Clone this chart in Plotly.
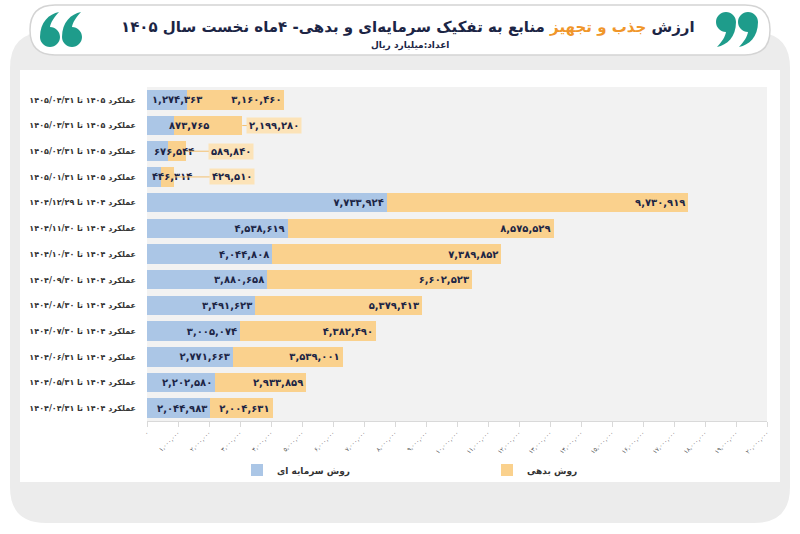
import plotly.graph_objects as go

# category labels, top row first
categories = [
    "عملکرد ۱۴۰۵ تا ۱۴۰۵/۰۴/۳۱",
    "عملکرد ۱۴۰۵ تا ۱۴۰۵/۰۳/۳۱",
    "عملکرد ۱۴۰۵ تا ۱۴۰۵/۰۲/۳۱",
    "عملکرد ۱۴۰۵ تا ۱۴۰۵/۰۱/۳۱",
    "عملکرد ۱۴۰۴ تا ۱۴۰۴/۱۲/۲۹",
    "عملکرد ۱۴۰۴ تا ۱۴۰۴/۱۱/۳۰",
    "عملکرد ۱۴۰۴ تا ۱۴۰۴/۱۰/۳۰",
    "عملکرد ۱۴۰۴ تا ۱۴۰۴/۰۹/۳۰",
    "عملکرد ۱۴۰۴ تا ۱۴۰۴/۰۸/۳۰",
    "عملکرد ۱۴۰۴ تا ۱۴۰۴/۰۷/۳۰",
    "عملکرد ۱۴۰۴ تا ۱۴۰۴/۰۶/۳۱",
    "عملکرد ۱۴۰۴ تا ۱۴۰۴/۰۵/۳۱",
    "عملکرد ۱۴۰۴ تا ۱۴۰۴/۰۴/۳۱",
]
capital = [1274363, 873765, 676544, 446314, 7733924, 4538619, 4044808,
           3880658, 3491623, 3005074, 2771663, 2202580, 2044983]
debt = [3160460, 2199280, 589840, 429510, 9730919, 8575529, 7389852,
        6602523, 5379413, 4382490, 3539001, 2933859, 2004631]
tick_values = [0, 1000000, 2000000, 3000000, 4000000, 5000000, 6000000,
               7000000, 8000000, 9000000, 10000000, 11000000, 12000000,
               13000000, 14000000, 15000000, 16000000, 17000000, 18000000,
               19000000, 20000000]

series_names = ["روش سرمایه ای", "روش بدهی"]
title_parts = ["ارزش", "جذب و تجهیز", "منابع به تفکیک سرمایه‌ای و بدهی- ۴ماه نخست سال ۱۴۰۵"]
subtitle = "اعداد:میلیارد ریال"

FA = str.maketrans("0123456789", "۰۱۲۳۴۵۶۷۸۹")


def fa(n):
    return f"{n:,}".translate(FA)


BLUE = "#abc6e6"
ORANGE = "#fad18d"
NAVY = "#1c2545"
TEAL = "#1e9c8b"
FONT = "DejaVu Sans"

# plot area in pixels (800x534 page)
L, R, T, B = 147, 767, 87, 421


def px(x):
    return (x - L) / (R - L)


def py(y):
    return 1 - (y - T) / (B - T)


def rrect(x0, y0, x1, y1, r):
    pts = [
        f"M {px(x0 + r)},{py(y0)}",
        f"L {px(x1 - r)},{py(y0)}",
        f"Q {px(x1)},{py(y0)} {px(x1)},{py(y0 + r)}",
        f"L {px(x1)},{py(y1 - r)}",
        f"Q {px(x1)},{py(y1)} {px(x1 - r)},{py(y1)}",
        f"L {px(x0 + r)},{py(y1)}",
        f"Q {px(x0)},{py(y1)} {px(x0)},{py(y1 - r)}",
        f"L {px(x0)},{py(y0 + r)}",
        f"Q {px(x0)},{py(y0)} {px(x0 + r)},{py(y0)}",
        "Z",
    ]
    return " ".join(pts)


def comma(cx, cy, r, flip=False):
    # solid "9" blob with a tail; flipped gives a "6"
    s = -1 if flip else 1
    segs = [
        ("M", [(0, -1)]),
        ("C", [(0.55, -1), (1, -0.55), (1, 0)]),
        ("C", [(1, 1.5), (0.1, 2.3), (-0.9, 2.5)]),
        ("C", [(-0.4, 2.0), (-0.05, 1.4), (0, 1)]),
        ("C", [(-0.55, 1), (-1, 0.55), (-1, 0)]),
        ("C", [(-1, -0.55), (-0.55, -1), (0, -1)]),
    ]
    out = []
    for cmd, pts in segs:
        coords = " ".join(f"{px(cx + s * dx * r)},{py(cy + s * dy * r)}" for dx, dy in pts)
        out.append(f"{cmd} {coords}")
    return " ".join(out) + " Z"


# rows whose labels are placed by hand (too short for inside text)
small_rows = [0, 1, 2, 3]
debt_callout = {1: 32, 2: 45, 3: 58}
capital_shift = {0: 3, 1: 20, 2: 5, 3: 3}

cap_text = ["" if i in small_rows else fa(v) for i, v in enumerate(capital)]
debt_text = ["" if i in debt_callout else fa(v) for i, v in enumerate(debt)]

label_font = dict(family=FONT, size=10, color=NAVY, weight="bold")

fig = go.Figure()
fig.add_trace(go.Bar(
    y=categories, x=capital, orientation="h", name=series_names[0],
    marker=dict(color=BLUE, line=dict(width=0)),
    text=cap_text, textposition="inside", insidetextanchor="end",
    constraintext="none", textangle=0, textfont=label_font,
))
fig.add_trace(go.Bar(
    y=categories, x=debt, orientation="h", name=series_names[1],
    marker=dict(color=ORANGE, line=dict(width=0)),
    text=debt_text, textposition="inside", insidetextanchor="end",
    constraintext="none", textangle=0, textfont=label_font,
))

annotations = []
for i in small_rows:
    annotations.append(dict(
        x=0, y=categories[i], xref="x", yref="y", xanchor="left",
        xshift=capital_shift[i], text=fa(capital[i]), showarrow=False,
        font=label_font,
    ))
for i, off in debt_callout.items():
    annotations.append(dict(
        x=capital[i] + debt[i], y=categories[i], xref="x", yref="y",
        ax=off, ay=0, text=fa(debt[i]), showarrow=True, arrowhead=0,
        arrowwidth=1, arrowcolor="#f3c070", bgcolor="#fce3b8", borderpad=2,
        font=label_font,
    ))

# title and subtitle
annotations.append(dict(
    x=px(408), y=py(27), xref="paper", yref="paper", showarrow=False,
    xanchor="center", yanchor="middle",
    text=(f"{title_parts[0]} <span style='color:#f0962a'>{title_parts[1]}</span> "
          f"{title_parts[2]}"),
    font=dict(family=FONT, size=15, color=NAVY, weight="bold"),
))
annotations.append(dict(
    x=px(410), y=py(45), xref="paper", yref="paper", showarrow=False,
    xanchor="center", yanchor="middle",
    text=subtitle, font=dict(family=FONT, size=9, color=NAVY, weight="bold"),
))

shapes = [
    dict(type="path", path=rrect(10, 32, 790, 523, 36), xref="paper", yref="paper",
         fillcolor="#ececec", line=dict(width=0), layer="below"),
    dict(type="rect", x0=px(20), x1=px(780), y0=py(70), y1=py(482),
         xref="paper", yref="paper", fillcolor="white", line=dict(width=0), layer="below"),
    dict(type="path", path=rrect(30, 5, 770, 55, 25), xref="paper", yref="paper",
         fillcolor="white", line=dict(color="#d4d4d4", width=1.5), layer="below"),
    dict(type="rect", x0=0, x1=1, y0=0, y1=1, xref="paper", yref="paper",
         fillcolor="#f2f2f2", line=dict(width=0), layer="below"),
]
# quote marks: "99" on the right, "66" on the left
for cx, cy, flip in [(726, 22, False), (748, 22, False), (50, 37, True), (72, 37, True)]:
    shapes.append(dict(type="path", path=comma(cx, cy, 10, flip), xref="paper",
                       yref="paper", fillcolor=TEAL, line=dict(width=0)))

fig.update_layout(
    width=800, height=534,
    barmode="stack", bargap=0.24,
    paper_bgcolor="white", plot_bgcolor="rgba(0,0,0,0)",
    margin=dict(l=L, r=800 - R, t=T, b=534 - B),
    font=dict(family=FONT, color=NAVY),
    xaxis=dict(
        range=[0, 20000000], tickvals=tick_values,
        ticktext=[fa(v) for v in tick_values], tickangle=-45,
        tickfont=dict(family=FONT, size=6, color="#555555"),
        showgrid=False, zeroline=False, showline=True, linecolor="#d9d9d9",
        ticks="outside", ticklen=5, tickcolor="#d9d9d9",
    ),
    yaxis=dict(
        autorange="reversed", showgrid=False, zeroline=False, ticks="",
        ticklabelstandoff=10,
        tickfont=dict(family=FONT, size=8, color="#333333", weight="bold"),
    ),
    legend=dict(
        orientation="h", traceorder="normal",
        x=px(237), y=py(470), xanchor="left", yanchor="middle",
        entrywidth=205, entrywidthmode="pixels", itemwidth=30,
        font=dict(family=FONT, size=9, color="#333333", weight="bold"),
        bgcolor="rgba(0,0,0,0)",
    ),
    annotations=annotations,
    shapes=shapes,
)

fig.write_html("out.html", config={"displayModeBar": False},
               post_script="document.body.style.margin='0px';")
